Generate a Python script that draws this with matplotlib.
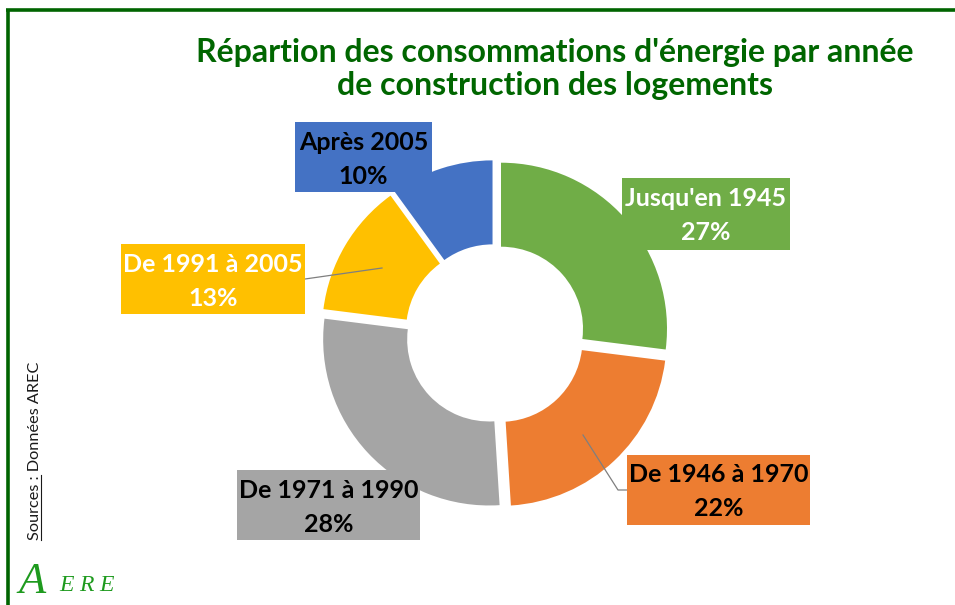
import matplotlib
matplotlib.use("Agg")
import matplotlib.pyplot as plt
from matplotlib.patches import Rectangle
from matplotlib.lines import Line2D

# Data
categories = ["Jusqu'en 1945", "De 1946 à 1970", "De 1971 à 1990", "De 1991 à 2005", "Après 2005"]
shares = [27, 22, 28, 13, 10]
colors = ["#70AD47", "#ED7D31", "#A5A5A5", "#FFC000", "#4472C4"]
label_text_colors = ["white", "black", "black", "white", "black"]

title = "Répartion des consommations d'énergie par année\nde construction des logements"
source = "Sources : Données AREC"

W, H = 955, 605
fig = plt.figure(figsize=(W / 100, H / 100), dpi=100)
ax = fig.add_axes([0, 0, 1, 1])


def Y(y):
    """Convert a top-down pixel row to the axes' bottom-up coordinate."""
    return H - y


FONT = ["Lato", "DejaVu Sans"]
SERIF = ["Liberation Serif", "DejaVu Serif"]

# Donut (explode is in data units, i.e. pixels here)
cx, cy = 495, 334
R, ring = 166, 84
ax.pie(shares, colors=colors, startangle=90, counterclock=False,
       radius=R, center=(cx, Y(cy)), explode=[8] * len(shares),
       wedgeprops=dict(width=ring, edgecolor="none", linewidth=0))
ax.set_xlim(0, W)
ax.set_ylim(0, H)
ax.set_aspect("equal")
ax.axis("off")

# Label boxes (left, top, right, bottom) in pixel rows
boxes = [
    (622, 178, 790, 250),
    (627, 455, 810, 525),
    (237, 470, 420, 540),
    (121, 244, 305, 314),
    (295, 122, 432, 192),
]

# Leader lines
ax.add_line(Line2D([305, 382], [Y(279), Y(268)], color="#7F7F7F", lw=0.9, zorder=3))
ax.add_line(Line2D([627, 618, 583], [Y(490), Y(490), Y(435)], color="#7F7F7F", lw=0.9, zorder=3))

for cat, val, col, tcol, (l, t, r, b) in zip(categories, shares, colors, label_text_colors, boxes):
    ax.add_patch(Rectangle((l, Y(b)), r - l, b - t, facecolor=col, edgecolor="none", zorder=4))
    xm = (l + r) / 2
    ax.text(xm, Y(t + 20), cat, ha="center", va="center", fontsize=18,
            fontweight="bold", color=tcol, family=FONT, zorder=5)
    ax.text(xm, Y(t + 54), f"{val}%", ha="center", va="center", fontsize=18,
            fontweight="bold", color=tcol, family=FONT, zorder=5)

# Title
ax.text(555, Y(69), title, ha="center", va="center", fontsize=23, fontweight="bold",
        color="#006600", family=FONT, linespacing=1.15)

# Frame lines
frame_col = "#006400"
ax.add_line(Line2D([6, W], [Y(10), Y(10)], color=frame_col, lw=2.6, solid_capstyle="butt"))
ax.add_line(Line2D([8, 8], [Y(10), 0], color=frame_col, lw=2.6, solid_capstyle="butt"))

# Source note, written bottom to top with an underlined prefix
sx, sy = 39, 540
ax.text(sx, Y(sy), source, rotation=90, rotation_mode="anchor", ha="left", va="baseline",
        fontsize=11.7, color="#1a1a1a", family=FONT)
fig.canvas.draw()
probe = ax.text(sx, Y(sy), "Sources :", rotation=90, rotation_mode="anchor", ha="left",
                va="baseline", fontsize=11.7, family=FONT, alpha=0)
bb = probe.get_window_extent(renderer=fig.canvas.get_renderer())
ax.add_line(Line2D([sx + 1.5, sx + 1.5], [Y(sy), Y(sy) + bb.height], color="#1a1a1a", lw=0.8))

# Logo
logo_col = "#1E9A1E"
ax.text(18, Y(593), "A", fontsize=32, style="italic", color=logo_col,
        family=SERIF, ha="left", va="baseline")
for i, ch in enumerate("ERE"):
    ax.text(59 + i * 20, Y(591), ch, fontsize=17, style="italic", color=logo_col,
            family=SERIF, ha="left", va="baseline")

fig.savefig("out.png", dpi=100, facecolor="white")
